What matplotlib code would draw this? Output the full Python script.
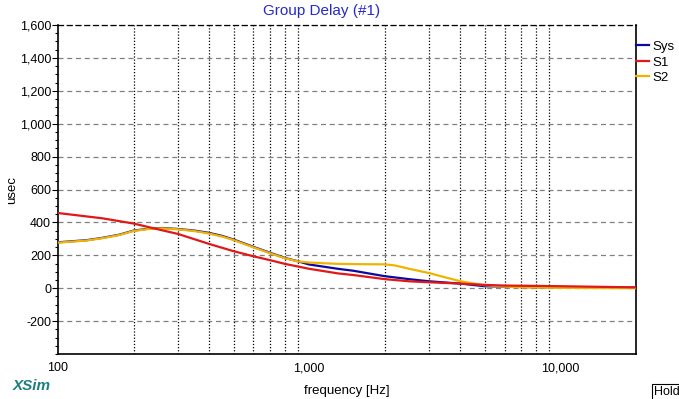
"""Group delay plot in the XSim style"""

import numpy as np
import matplotlib
matplotlib.use('Agg')
from matplotlib import pyplot as plt
from matplotlib.ticker import FixedLocator, MultipleLocator, FuncFormatter, NullFormatter

plt.rcParams['font.family'] = ['Liberation Sans', 'DejaVu Sans']

# Data (Hz, usec)
sys_freq = [100, 130, 150, 175, 200, 230, 260, 300, 350, 400, 450, 500, 600, 700,
            800, 900, 1000, 1300, 1500, 2000, 2500, 3000, 4000, 5000, 6000, 8000, 10000, 20000]
sys_delay = [279, 292, 306, 325, 350, 362, 366, 360, 350, 336, 318, 296, 251, 215,
             184, 164, 144, 118, 106, 73, 55, 42, 28, 12, 10, 6, 5, 4]

s1_freq = [100, 150, 200, 250, 300, 400, 500, 600, 700, 800, 900, 1000, 1300, 1500,
           2000, 2500, 3000, 4000, 5000, 6000, 8000, 10000, 20000]
s1_delay = [457, 425, 393, 358, 330, 269, 225, 194, 170, 148, 132, 118, 90, 80,
            55, 42, 36, 28, 20, 16, 14, 12, 5]

s2_freq = [100, 130, 150, 175, 200, 230, 260, 300, 350, 400, 450, 500, 600, 700,
           800, 900, 1000, 1300, 1600, 2000, 2200, 2500, 3000, 3500, 4000, 5000, 6000,
           7000, 10000, 20000]
s2_delay = [277, 290, 304, 323, 348, 360, 364, 358, 347, 332, 314, 293, 248, 212,
            182, 163, 156, 148, 146, 145, 138, 118, 92, 65, 42, 18, 10, 5, 2, 0]

series_names = ['Sys', 'S1', 'S2']
series_colors = ['#0a0aa0', '#e01818', '#f0b400']

y_ticks = list(range(-200, 1601, 200))
x_labels = [100, 1000, 10000]
x_grid = [200, 300, 400, 500, 600, 700, 800, 900,
          2000, 3000, 4000, 5000, 6000, 7000, 8000, 9000]

fig = plt.figure(figsize=(6.79, 3.99), dpi=100)
ax = fig.add_axes([58 / 679, 45 / 399, 578 / 679, 329 / 399])

# Draw order: Sys under S2 under S1
ax.plot(sys_freq, sys_delay, color=series_colors[0], lw=1.6, label=series_names[0], zorder=3)
ax.plot(s2_freq, s2_delay, color=series_colors[2], lw=1.6, label=series_names[2], zorder=4)
ax.plot(s1_freq, s1_delay, color=series_colors[1], lw=1.6, label=series_names[1], zorder=5)

ax.set_xscale('log')
ax.set_xlim(100, 20000)
ax.set_ylim(-400, 1600)

# x axis: labels only on decades, dotted grid on the in-between lines
ax.xaxis.set_major_locator(FixedLocator(x_labels))
ax.xaxis.set_major_formatter(FuncFormatter(lambda v, p: '{:,.0f}'.format(v)))
ax.xaxis.set_minor_locator(FixedLocator(x_grid))
ax.xaxis.set_minor_formatter(NullFormatter())
ax.tick_params(axis='x', which='both', length=0, pad=6, labelsize=9)
ax.grid(True, axis='x', which='minor', color='black', ls=(0, (1, 1.5)), lw=0.9)

# y axis
ax.yaxis.set_major_locator(FixedLocator(y_ticks))
ax.yaxis.set_major_formatter(FuncFormatter(lambda v, p: '{:,.0f}'.format(v)))
ax.yaxis.set_minor_locator(MultipleLocator(50))
ax.tick_params(axis='y', which='major', length=4, width=0.8, pad=1, labelsize=9)
ax.tick_params(axis='y', which='minor', length=2.5, width=0.8)
ax.grid(True, axis='y', which='major', color='#808080', ls=(0, (4, 3)), lw=0.9)

for side in ['left', 'bottom', 'right']:
    ax.spines[side].set_linewidth(1.2)
ax.spines['top'].set_linestyle((0, (4, 3)))
ax.spines['top'].set_linewidth(0.9)

ax.set_xlabel('frequency [Hz]', fontsize=9.5, labelpad=8)
ax.set_ylabel('usec', fontsize=9.5, labelpad=1)
fig.text(322 / 679, 1 - 11 / 399, 'Group Delay (#1)', fontsize=11, color='#2828c8',
         ha='center', va='center')

# Legend outside on the right
handles, labels = ax.get_legend_handles_labels()
order = [labels.index(n) for n in series_names]
ax.legend([handles[i] for i in order], [labels[i] for i in order],
          loc='upper left', bbox_to_anchor=(1.0, 0.952), frameon=False,
          fontsize=9.5, handlelength=1.0, handletextpad=0.25, labelspacing=0.25,
          borderaxespad=0, borderpad=0)

fig.text(13 / 679, 1 - 386 / 399, 'XSim', fontsize=11, fontweight='bold',
         style='italic', color='#1a8080', va='center')
fig.text(654 / 679, 1 - 392 / 399, 'Hold', fontsize=9, va='center', ha='left',
         bbox=dict(boxstyle='square,pad=0.2', fc='white', ec='black', lw=0.8))

fig.savefig('out.png', dpi=100)
